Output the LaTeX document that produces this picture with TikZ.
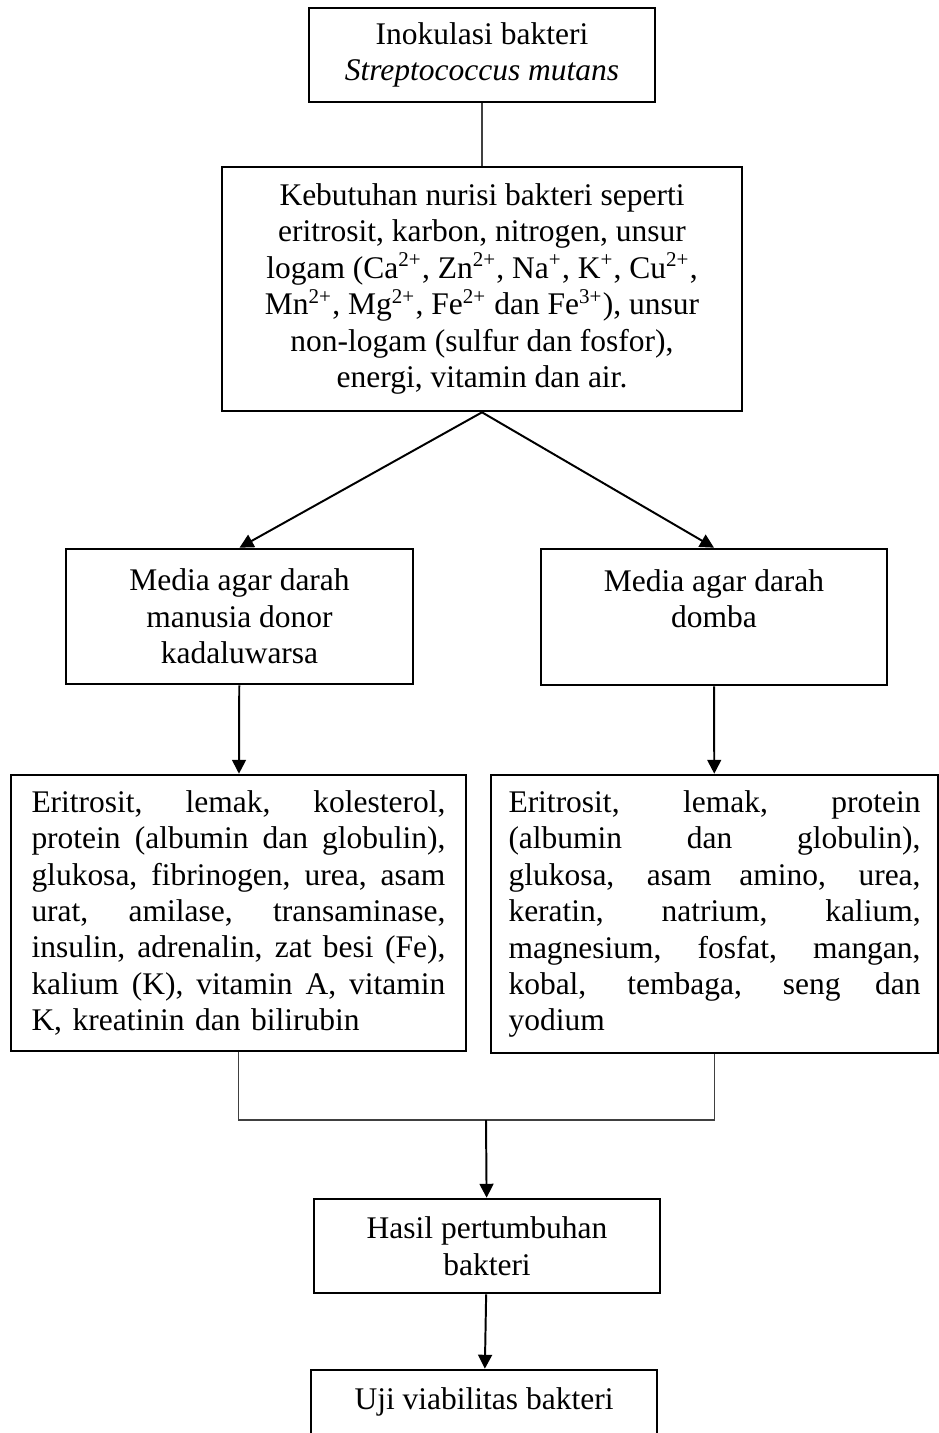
\documentclass[tikz,border=0pt]{standalone}
\usepackage{fontspec}
\setmainfont{Liberation Serif}
\usetikzlibrary{arrows.meta}
\def\u{0.381pt}
\newcommand\jline[2][157.7pt]{\makebox[#1][s]{\spaceskip=0pt\xspaceskip=0pt #2}}
\tikzset{
  flowchart/.style={x=\u,y=-\u,font=\fontsize{12pt}{13.9pt}\selectfont},
  flowbox/.style={draw,line width=1pt,align=center,inner sep=0pt},
  link/.style={line width=0.5pt,black!75},
  arrowlink/.style={line width=0.75pt,-{Triangle[length=5.3pt,width=5.3pt]}},
}

\begin{document}
\begin{tikzpicture}[flowchart]
    \clip (0,0) rectangle (939,1433);
    \node[flowbox,minimum width=346*\u,minimum height=94*\u] (inok) at (482,55)
      {Inokulasi bakteri\\\textit{Streptococcus mutans}};
    \node[flowbox,minimum width=520*\u,minimum height=244*\u] (nutrisi) at (482,289)
      {Kebutuhan nurisi bakteri seperti\\eritrosit, karbon, nitrogen, unsur\\
       logam (Ca\textsuperscript{2+}, Zn\textsuperscript{2+}, Na\textsuperscript{+}, K\textsuperscript{+}, Cu\textsuperscript{2+},\\
       Mn\textsuperscript{2+}, Mg\textsuperscript{2+}, Fe\textsuperscript{2+} dan Fe\textsuperscript{3+}), unsur\\
       non-logam (sulfur dan fosfor),\\energi, vitamin dan air.};
    % the two blood agar media
    \node[flowbox,minimum width=347*\u,minimum height=135*\u] (mediaL) at (239.5,616.5)
      {Media agar darah\\manusia donor\\kadaluwarsa};
    \node[flowbox,minimum width=346*\u,minimum height=136*\u] (mediaR) at (714,617)
      {Media agar darah\\domba\\~};
    \node[flowbox,align=left,text width=414*\u,inner xsep=20.5*\u,minimum height=276*\u] (kompL) at (238.5,913)
      {\jline{Eritrosit, lemak, kolesterol,}\\
       \jline{protein (albumin dan globulin),}\\
       \jline{glukosa, fibrinogen, urea, asam}\\
       \jline{urat, amilase, transaminase,}\\
       \jline{insulin, adrenalin, zat besi (Fe),}\\
       \jline{kalium (K), vitamin A, vitamin}\\
       K, kreatinin dan bilirubin};
    \node[flowbox,align=left,text width=412*\u,inner xsep=17.5*\u,minimum height=278*\u] (kompR) at (714.5,914)
      {\jline[157pt]{Eritrosit, lemak, protein}\\
       \jline[157pt]{(albumin dan globulin),}\\
       \jline[157pt]{glukosa, asam amino, urea,}\\
       \jline[157pt]{keratin, natrium, kalium,}\\
       \jline[157pt]{magnesium, fosfat, mangan,}\\
       \jline[157pt]{kobal, tembaga, seng dan}\\
       yodium};
    \node[flowbox,minimum width=346*\u,minimum height=94*\u] (hasil) at (487,1246)
      {Hasil pertumbuhan\\bakteri};
    \node[flowbox,minimum width=346*\u,minimum height=94*\u] (uji) at (484,1417)
      {Uji viabilitas bakteri\\~};
    \coordinate (join) at (486,1120);
    % connectors
    \draw[link] (inok) -- (nutrisi);
    \draw[arrowlink] (nutrisi.south) -- (mediaL.north);
    \draw[arrowlink] (nutrisi.south) -- (mediaR.north);
    \draw[arrowlink] (mediaL) -- (kompL);
    \draw[arrowlink] (mediaR) -- (kompR);
    \draw[link] (kompL.south) |- (join) -| (kompR.south);
    \draw[arrowlink] (join) -- (hasil);
    \draw[arrowlink] (hasil) -- (uji);
\end{tikzpicture}
\end{document}
